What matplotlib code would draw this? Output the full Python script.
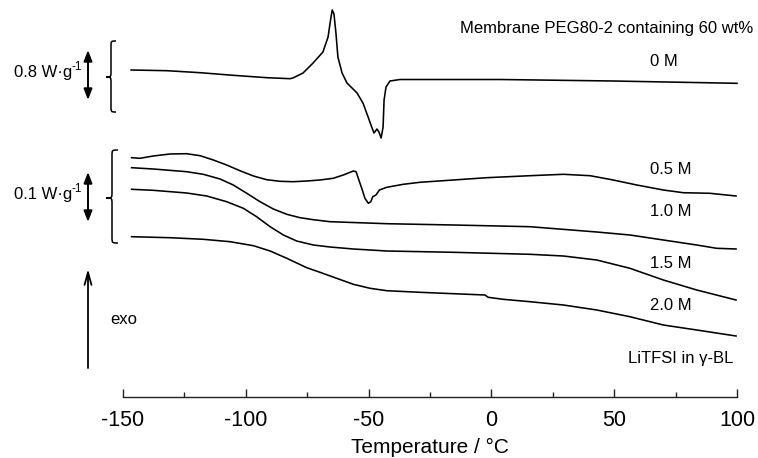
import matplotlib
matplotlib.use("Agg")
from matplotlib import pyplot as plt
from matplotlib.path import Path
from matplotlib.patches import PathPatch
from matplotlib.ticker import MultipleLocator

plt.rcParams["font.family"] = ["Liberation Sans", "DejaVu Sans"]
plt.rcParams["axes.unicode_minus"] = False

# DSC traces, temperature in degC, heat flow in W/g relative to the first point
temp_0M = [-146.7, -132.2, -118.6, -105.1, -91.5, -82.0, -80.8, -76.7, -72.6, -68.6,
           -66.5, -65.8, -65.3, -64.8, -64.1, -63.3, -62.5, -60.8, -58.8, -54.7,
           -52.3, -50.2, -48.6, -47.8, -46.6, -45.8, -44.9, -44.1, -43.7, -42.9,
           -41.3, -37.2, 3.5, 49.5, 100.0]
hf_0M = [0.0, -0.011, -0.043, -0.085, -0.123, -0.139, -0.128, -0.048, 0.112, 0.288,
         0.528, 0.72, 0.848, 0.96, 0.896, 0.592, 0.208, -0.048, -0.208, -0.368,
         -0.528, -0.752, -0.928, -1.008, -0.944, -0.992, -1.088, -0.912, -0.48, -0.272,
         -0.176, -0.152, -0.152, -0.176, -0.213]

temp_05M = [-146.5, -143.1, -137.7, -130.9, -124.1, -118.6, -113.2, -107.8, -102.4, -96.9,
            -91.5, -86.1, -80.7, -75.2, -69.8, -64.4, -60.3, -56.2, -55.1, -54.2,
            -52.8, -51.5, -50.1, -49.1, -48.3, -47.0, -45.6, -42.6, -35.9, -29.1,
            -15.5, -1.9, 15.7, 29.3, 40.2, 49.6, 59.2, 70.0, 78.1, 89.0, 99.6]
hf_05M = [0.0, -0.0012, 0.0034, 0.0074, 0.008, 0.004, -0.0046, -0.0146, -0.026, -0.0366,
          -0.044, -0.0472, -0.048, -0.0466, -0.0446, -0.0412, -0.0346, -0.0266, -0.028, -0.0412,
          -0.0612, -0.0812, -0.0912, -0.088, -0.078, -0.0746, -0.0646, -0.0592, -0.0532, -0.0492,
          -0.0446, -0.04, -0.036, -0.0332, -0.036, -0.0446, -0.0546, -0.0646, -0.07, -0.0712,
          -0.0766]

temp_10M = [-146.5, -137.7, -124.1, -117.3, -110.5, -105.1, -99.6, -94.2, -88.8, -83.3,
            -77.9, -72.5, -65.7, -42.6, -15.5, 15.7, 42.9, 56.4, 70.0, 83.6,
            91.7, 99.6]
hf_10M = [0.0, -0.0026, -0.008, -0.0132, -0.0226, -0.0346, -0.0512, -0.068, -0.0826, -0.0932,
          -0.1, -0.104, -0.108, -0.112, -0.1146, -0.118, -0.1286, -0.1346, -0.1446, -0.1546,
          -0.1612, -0.1626]

temp_15M = [-146.5, -137.7, -124.1, -115.9, -107.8, -101.0, -95.6, -90.1, -84.7, -79.3,
            -72.5, -65.7, -56.2, -42.6, -15.5, 15.7, 29.3, 42.9, 56.4, 70.0,
            83.6, 99.6]
hf_15M = [0.0, -0.002, -0.0074, -0.0134, -0.0248, -0.038, -0.0548, -0.0748, -0.0914, -0.1034,
          -0.1114, -0.1154, -0.1194, -0.1234, -0.126, -0.13, -0.1334, -0.1414, -0.158, -0.1814,
          -0.2014, -0.2214]

temp_20M = [-146.5, -130.9, -117.3, -106.4, -96.9, -90.1, -83.3, -75.2, -69.8, -63.0,
            -56.2, -49.4, -42.6, -29.1, -15.5, -2.6, -1.3, 4.8, 15.7, 29.3,
            42.9, 56.4, 70.0, 83.6, 99.6]
hf_20M = [0.0, -0.002, -0.0052, -0.01, -0.018, -0.0286, -0.0432, -0.062, -0.0712, -0.0832,
          -0.0952, -0.1032, -0.108, -0.1112, -0.114, -0.1166, -0.1212, -0.1252, -0.13, -0.1366,
          -0.1466, -0.16, -0.1766, -0.1866, -0.1986]

labels = ["0 M", "0.5 M", "1.0 M", "1.5 M", "2.0 M"]

W, H = 758, 458


def brace(ax, x_tip, x_right, y_top, y_bot, y_mid, r=6):
    """left curly brace drawn in pixel coords."""
    xm = (x_tip + x_right) / 2.0
    verts = [
        (x_right, y_top), (xm, y_top), (xm, y_top), (xm, y_top + r),
        (xm, y_mid - r),
        (xm, y_mid), (xm, y_mid), (x_tip, y_mid),
        (xm, y_mid), (xm, y_mid), (xm, y_mid + r),
        (xm, y_bot - r),
        (xm, y_bot), (xm, y_bot), (x_right, y_bot),
    ]
    codes = [Path.MOVETO, Path.CURVE4, Path.CURVE4, Path.CURVE4,
             Path.LINETO,
             Path.CURVE4, Path.CURVE4, Path.CURVE4,
             Path.CURVE4, Path.CURVE4, Path.CURVE4,
             Path.LINETO,
             Path.CURVE4, Path.CURVE4, Path.CURVE4]
    ax.add_patch(PathPatch(Path(verts, codes), fc="none", ec="black", lw=1.1))


def scale_bar(ax, x, y0, y1, value):
    ax.annotate("", xy=(x, y0), xytext=(x, y1),
                arrowprops=dict(arrowstyle="<|-|>,head_length=0.65,head_width=0.25",
                                color="black", lw=1.4, shrinkA=0, shrinkB=0,
                                mutation_scale=10))
    yc = (y0 + y1) / 2.0 - 2
    ax.text(72, yc, "%s W\u00b7g" % value, ha="right", va="center", fontsize=12)
    ax.text(72, yc - 6, "-1", ha="left", va="center", fontsize=8.5)


fig = plt.figure(figsize=(W / 100, H / 100), dpi=100)

# main axes: only the temperature axis is shown
ax = fig.add_axes([123 / W, 1 - 397 / H, (737 - 123) / W, 397 / H])
ax.set_xlim(-150, 100)
ax.set_ylim(0, 397 / 500)
for side in ["left", "right", "top"]:
    ax.spines[side].set_visible(False)
ax.spines["bottom"].set_linewidth(1.0)
ax.spines["bottom"].set_color("#222222")
ax.yaxis.set_visible(False)
ax.xaxis.set_major_locator(MultipleLocator(50))
ax.xaxis.set_minor_locator(MultipleLocator(25))
ax.tick_params(axis="x", which="major", direction="in", length=6, width=1.0,
               pad=9, labelsize=15.5, color="#222222")
ax.tick_params(axis="x", which="minor", direction="in", length=3.4, width=1.0,
               color="#222222")
ax.set_xlabel("Temperature / \u00b0C", fontsize=15, labelpad=5.5)
ax.patch.set_alpha(0)

traces = [(temp_0M, hf_0M), (temp_05M, hf_05M), (temp_10M, hf_10M),
          (temp_15M, hf_15M), (temp_20M, hf_20M)]
offsets = [0.654, 0.4786, 0.4586, 0.4154, 0.3206]
scales = [1 / 8.0, 1, 1, 1, 1]
for (t, hf), off, sc in zip(traces, offsets, scales):
    ax.plot(t, [off + v * sc for v in hf], color="black", lw=1.15,
            solid_joinstyle="round", clip_on=False)

# overlay in pixel coords for annotations
ov = fig.add_axes([0, 0, 1, 1])
ov.set_xlim(0, W)
ov.set_ylim(H, 0)
ov.axis("off")
ov.patch.set_alpha(0)

label_y = [62, 169, 211, 264, 305]
for lab, y in zip(labels, label_y):
    ov.text(650, y, lab, ha="left", va="center", fontsize=12)

ov.text(753, 28, "Membrane PEG80-2 containing 60 wt%", ha="right", va="center",
        fontsize=12)
ov.text(733, 358, "LiTFSI in \u03b3-BL", ha="right", va="center", fontsize=12)

scale_bar(ov, 88, 50, 100, "0.8")
scale_bar(ov, 88, 172, 222, "0.1")
brace(ov, 106, 116, 41, 112, 77)
brace(ov, 106, 118, 150, 243, 198)

ov.annotate("", xy=(88, 269), xytext=(88, 368),
            arrowprops=dict(arrowstyle="->,head_length=0.9,head_width=0.25",
                            color="black", lw=1.3, shrinkA=0, shrinkB=0,
                            mutation_scale=10))
ov.text(110, 320, "exo", ha="left", va="center", fontsize=12)

fig.savefig("out.png", dpi=100)
